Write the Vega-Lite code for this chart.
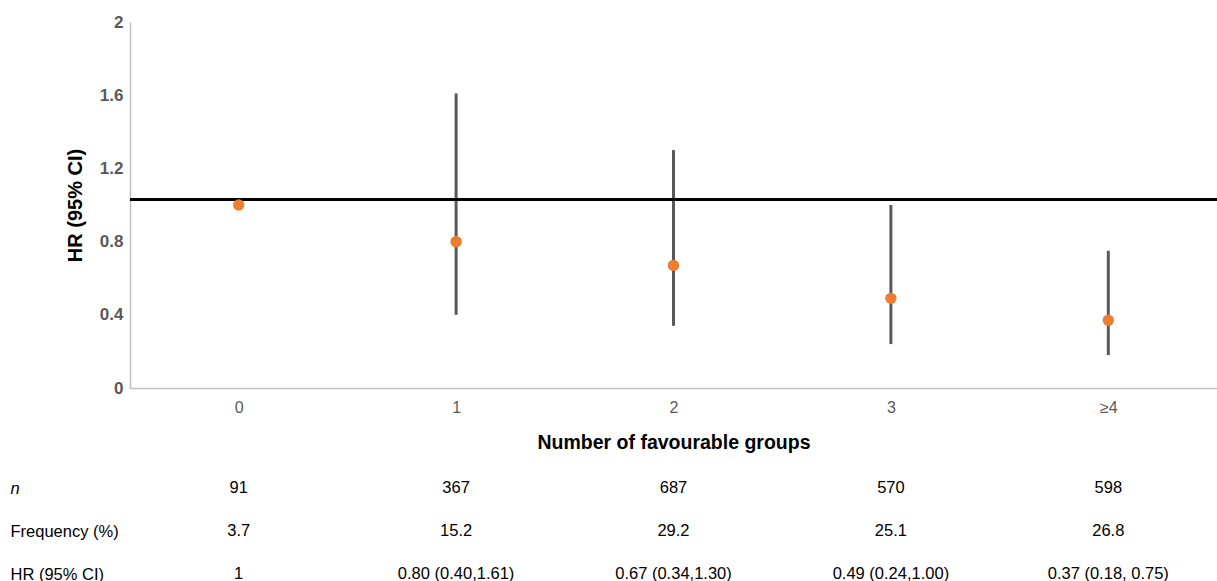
{
  "$schema": "https://vega.github.io/schema/vega-lite/v6.json",
  "background": "white",
  "padding": {"left": 10, "top": 13, "right": 0, "bottom": 0},
  "config": {"font": "Liberation Sans", "view": {"stroke": null}},
  "spacing": 28,
  "vconcat": [
    {
      "width": 1087,
      "height": 366,
      "data": {"values": [
        {"group": "0", "hr": 1.0, "lo": null, "hi": null},
        {"group": "1", "hr": 0.80, "lo": 0.40, "hi": 1.61},
        {"group": "2", "hr": 0.67, "lo": 0.34, "hi": 1.30},
        {"group": "3", "hr": 0.49, "lo": 0.24, "hi": 1.00},
        {"group": "≥4", "hr": 0.37, "lo": 0.18, "hi": 0.75}
      ]},
      "encoding": {
        "x": {
          "field": "group", "type": "ordinal", "sort": null,
          "scale": {"type": "point", "padding": 0.5, "domain": ["0", "1", "2", "3", "≥4"]},
          "title": "Number of favourable groups",
          "axis": {
            "labelAngle": 0, "ticks": false, "domainColor": "#bfbfbf", "domainWidth": 1.5,
            "labelColor": "#595959", "labelFontSize": 16, "labelPadding": 11,
            "titleFontSize": 19.5, "titleFontWeight": "bold", "titleColor": "#000000", "titlePadding": 18
          }
        }
      },
      "layer": [
        {
          "transform": [{"filter": "datum.lo != null"}],
          "mark": {"type": "rule", "color": "#595959", "strokeWidth": 3},
          "encoding": {
            "y": {"field": "lo", "type": "quantitative"},
            "y2": {"field": "hi"}
          }
        },
        {
          "mark": {"type": "rule", "color": "#000000", "strokeWidth": 2.5},
          "encoding": {"y": {"datum": 1.03, "type": "quantitative"}, "x": null}
        },
        {
          "mark": {"type": "circle", "color": "#ED7D31", "opacity": 1, "size": 130},
          "encoding": {
            "y": {
              "field": "hr", "type": "quantitative",
              "scale": {"domain": [0, 2], "nice": false, "zero": true},
              "title": "HR (95% CI)",
              "axis": {
                "values": [0, 0.4, 0.8, 1.2, 1.6, 2], "format": "~g", "grid": false, "ticks": false,
                "domainColor": "#bfbfbf", "domainWidth": 1.5,
                "labelColor": "#595959", "labelFontSize": 17, "labelFontWeight": "bold", "labelPadding": 7,
                "titleFontSize": 20, "titleFontWeight": "bold", "titleColor": "#000000", "titlePadding": 14
              }
            }
          }
        }
      ]
    },
    {
      "width": 1087,
      "height": 86,
      "data": {"values": [
        {"group": "0", "row": "n", "text": "91"},
        {"group": "1", "row": "n", "text": "367"},
        {"group": "2", "row": "n", "text": "687"},
        {"group": "3", "row": "n", "text": "570"},
        {"group": "≥4", "row": "n", "text": "598"},
        {"group": "0", "row": "Frequency (%)", "text": "3.7"},
        {"group": "1", "row": "Frequency (%)", "text": "15.2"},
        {"group": "2", "row": "Frequency (%)", "text": "29.2"},
        {"group": "3", "row": "Frequency (%)", "text": "25.1"},
        {"group": "≥4", "row": "Frequency (%)", "text": "26.8"},
        {"group": "0", "row": "HR (95% CI)", "text": "1"},
        {"group": "1", "row": "HR (95% CI)", "text": "0.80 (0.40,1.61)"},
        {"group": "2", "row": "HR (95% CI)", "text": "0.67 (0.34,1.30)"},
        {"group": "3", "row": "HR (95% CI)", "text": "0.49 (0.24,1.00)"},
        {"group": "≥4", "row": "HR (95% CI)", "text": "0.37 (0.18, 0.75)"}
      ]},
      "mark": {"type": "text", "fontSize": 16.5, "color": "#000000"},
      "encoding": {
        "x": {
          "field": "group", "type": "ordinal",
          "scale": {"type": "point", "padding": 0.5, "domain": ["0", "1", "2", "3", "≥4"]},
          "axis": null
        },
        "y": {
          "field": "row", "type": "ordinal",
          "scale": {"type": "point", "padding": 0, "domain": ["n", "Frequency (%)", "HR (95% CI)"]},
          "title": null,
          "axis": {
            "domain": false, "ticks": false, "labelAlign": "left", "labelPadding": 120,
            "labelFontSize": 16.5, "labelColor": "#000000",
            "labelFontStyle": {"condition": {"test": "datum.value === 'n'", "value": "italic"}, "value": "normal"}
          }
        },
        "text": {"field": "text"}
      }
    }
  ]
}
